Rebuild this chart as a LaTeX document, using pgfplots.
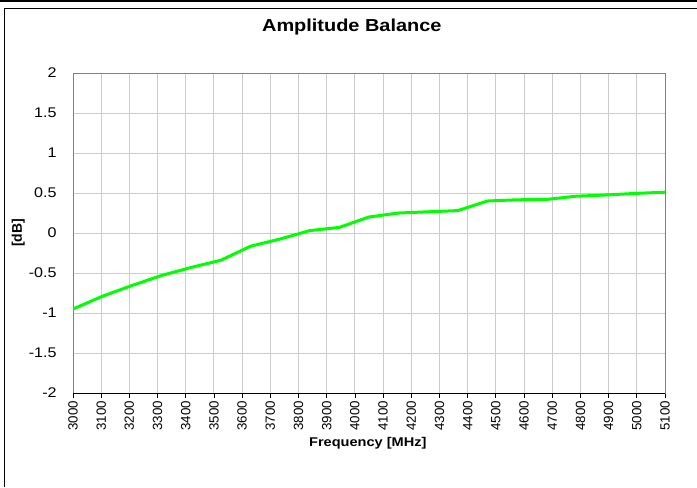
\documentclass[border=0pt]{standalone}
\usepackage{fontspec}
\setmainfont{Liberation Sans}
\newfontfamily\wide{Liberation Sans}[FakeStretch=1.15]
\usepackage{pgfplots}
\pgfplotsset{compat=1.18}
\begin{document}
\begin{tikzpicture}
\path[use as bounding box] (0,0) rectangle (522.75pt,365.25pt);
\fill[black] (0,365.25pt) rectangle (522.75pt,363.4pt);
\draw[black, line width=0.75pt] (3.4pt,0) -- (3.4pt,359pt) -- (522.75pt,359pt);
\begin{axis}[
  at={(54.75pt,70.5pt)}, anchor=south west,
  scale only axis, width=444pt, height=240pt,
  xmin=3000, xmax=5100, ymin=-2, ymax=2,
  xtick={3000,3100,...,5100}, ytick={-2,-1.5,...,2},
  /pgf/number format/1000 sep={},
  /pgf/number format/assume math mode=true,
  grid=major, grid style={draw=black!20, line width=0.75pt},
  axis line style={draw=black!50, line width=0.75pt},
  ytick style={draw=none},
  xtick style={draw=black, line width=0.6pt},
  major tick length=3.75pt,
  tick align=outside,
  xtick pos=bottom,
  ytick pos=left,
  xticklabel style={rotate=90, anchor=east, inner sep=2pt, font=\fontsize{10}{12}\selectfont},
  xticklabel shift=0pt,
  yticklabel style={font=\wide\fontsize{10.5}{12}\selectfont},
  yticklabel shift=5pt,
  xlabel={Frequency [MHz]},
  xlabel style={at={(axis description cs:0.498,-0.156)}, anchor=center, font=\wide\bfseries\fontsize{9.5}{11}\selectfont},
  ylabel={[dB]},
  ylabel style={at={(axis description cs:-0.0925,0.5)}, anchor=center, font=\bfseries\fontsize{10.5}{12}\selectfont},
  title={Amplitude Balance},
  title style={at={(axis description cs:0.471,1.119)}, anchor=center, font=\wide\bfseries\fontsize{13}{15}\selectfont},
]
\addplot[color={rgb,255:red,0;green,255;blue,0}, line width=2.25pt, line join=round] coordinates {
(3000,-0.95) (3105,-0.79) (3210,-0.655) (3315,-0.53) (3420,-0.43) (3525,-0.34)
(3630,-0.165) (3735,-0.075) (3840,0.03) (3945,0.07) (4050,0.2) (4155,0.25)
(4260,0.265) (4365,0.28) (4470,0.40) (4575,0.415) (4680,0.42) (4785,0.46)
(4890,0.475) (4995,0.495) (5100,0.51)
};
\draw[black, line width=0.75pt] (rel axis cs:0,0) -- (rel axis cs:1,0);
\end{axis}
\end{tikzpicture}
\end{document}
